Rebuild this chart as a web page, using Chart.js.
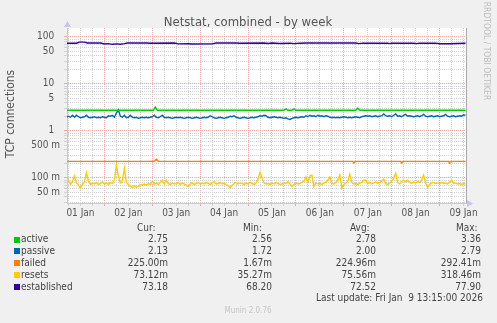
<!DOCTYPE html>
<html>
<head>
<meta charset="utf-8">
<script src="https://cdn.jsdelivr.net/npm/chart.js@4.4.1/dist/chart.umd.min.js"></script>
<style>
  html, body { margin: 0; padding: 0; background: #f0f0f0; }
  canvas { display: block; }
</style>
</head>
<body>
<canvas id="chart" width="497" height="323"></canvas>
<script>
// Netstat, combined - by week (munin)
const FONT = "'DejaVu Sans Condensed', 'DejaVu Sans', sans-serif"

// Axe x : heures depuis le 01 Jan 00:00
const xMin = 5.25
const xMax = 205.25
const dayLabelHours = [12, 36, 60, 84, 108, 132, 156, 180, 204]
const dayLabels = ['01 Jan', '02 Jan', '03 Jan', '04 Jan', '05 Jan', '06 Jan', '07 Jan', '08 Jan', '09 Jan']
const midnightHours = [24, 48, 72, 96, 120, 144, 168, 192]

// Axe y logarithmique
const yMin = 0.0292
const yMax = 154.6
const yGridValues = [0.03, 0.04, 0.05, 0.06, 0.07, 0.08, 0.09,
  0.1, 0.2, 0.3, 0.4, 0.5, 0.6, 0.7, 0.8, 0.9,
  1, 2, 3, 4, 5, 6, 7, 8, 9,
  10, 20, 30, 40, 50, 60, 70, 80, 90, 100]
const yMajorValues = [0.1, 1, 10, 100]
const yLabelValues = [0.05, 0.1, 0.5, 1, 5, 10, 50, 100]
const yLabelTexts = ['50 m', '100 m', '500 m', '1  ', '5  ', '10  ', '50  ', '100  ']

// Séries horaires (heure 5 à 205)
const hourlyTimes = []
for (let h = 5; h <= 205; h++) hourlyTimes.push(h)

const passiveValues = [
  1.95, 2.05, 1.95, 2.15, 1.95, 2.15, 2.0, 1.9, 1.95, 2.0,
  2.15, 1.95, 1.9, 1.95, 2.0, 1.9, 1.95, 1.9, 2.0, 1.95,
  1.9, 2.1, 2.05, 2.15, 1.95, 2.4, 2.79, 2.05, 1.95, 2.15,
  1.9, 1.95, 2.15, 1.95, 1.9, 1.95, 1.85, 1.9, 1.95, 1.9,
  1.95, 1.9, 1.95, 2.0, 2.15, 1.95, 1.9, 2.0, 2.15, 1.95,
  1.9, 1.95, 1.9, 1.85, 1.9, 1.95, 1.9, 1.95, 1.9, 1.85,
  1.9, 1.95, 1.9, 1.85, 1.9, 1.95, 1.9, 1.85, 1.9, 1.95,
  1.9, 1.95, 2.1, 2.0, 1.9, 1.85, 1.9, 1.95, 1.9, 1.85,
  1.9, 1.95, 2.05, 2.0, 2.1, 1.95, 1.9, 1.85, 1.9, 1.95,
  1.9, 1.85, 1.9, 1.95, 1.9, 1.95, 2.0, 2.1, 2.05, 2.15,
  2.1, 1.95, 1.9, 1.95, 2.0, 1.95, 1.9, 1.95, 1.9, 1.85,
  1.9, 1.8, 1.75, 1.85, 1.9, 1.95, 1.9, 1.95, 2.0, 1.95,
  2.1, 2.0, 2.15, 2.05, 2.1, 2.0, 2.15, 2.05, 2.1, 2.0,
  2.1, 2.05, 1.95, 1.9, 1.95, 1.9, 1.95, 1.9, 1.95, 2.0,
  1.95, 1.9, 1.95, 1.9, 1.95, 2.0, 1.95, 1.9, 2.0, 2.05,
  2.1, 2.05, 2.1, 2.0, 2.05, 2.1, 2.0, 2.05, 2.1, 2.3,
  2.1, 2.05, 2.1, 2.0, 2.15, 2.3, 2.05, 2.1, 2.0, 2.15,
  2.25, 2.05, 2.1, 2.05, 2.0, 2.05, 2.1, 2.0, 2.1, 2.25,
  2.05, 2.0, 2.05, 2.1, 2.0, 2.05, 2.1, 2.0, 2.05, 2.1,
  2.25, 2.05, 2.0, 2.05, 2.1, 2.0, 2.05, 2.1, 2.05, 2.2,
  2.13]

const resetsValues = [
  0.080, 0.090, 0.072, 0.085, 0.110, 0.078, 0.070, 0.060, 0.074, 0.082,
  0.130, 0.085, 0.072, 0.078, 0.074, 0.080, 0.072, 0.076, 0.082, 0.074,
  0.078, 0.072, 0.080, 0.076, 0.090, 0.190, 0.110, 0.078, 0.085, 0.160,
  0.080, 0.072, 0.066, 0.062, 0.068, 0.063, 0.066, 0.072, 0.070, 0.074,
  0.070, 0.076, 0.072, 0.085, 0.074, 0.078, 0.072, 0.080, 0.090, 0.074,
  0.090, 0.076, 0.072, 0.078, 0.074, 0.076, 0.080, 0.072, 0.078, 0.074,
  0.070, 0.065, 0.074, 0.078, 0.072, 0.076, 0.080, 0.074, 0.078, 0.074,
  0.080, 0.076, 0.072, 0.078, 0.082, 0.074, 0.076, 0.080, 0.074, 0.078,
  0.072, 0.068, 0.062, 0.070, 0.076, 0.080, 0.074, 0.078, 0.076, 0.072,
  0.078, 0.074, 0.080, 0.076, 0.072, 0.078, 0.095, 0.130, 0.100, 0.078,
  0.074, 0.076, 0.072, 0.078, 0.074, 0.080, 0.076, 0.072, 0.074, 0.078,
  0.076, 0.082, 0.074, 0.065, 0.072, 0.078, 0.074, 0.076, 0.080, 0.085,
  0.105, 0.080, 0.110, 0.115, 0.065, 0.078, 0.074, 0.076, 0.072, 0.078,
  0.080, 0.090, 0.105, 0.076, 0.074, 0.080, 0.090, 0.115, 0.060, 0.072,
  0.078, 0.085, 0.120, 0.080, 0.074, 0.076, 0.072, 0.078, 0.080, 0.090,
  0.088, 0.076, 0.080, 0.074, 0.078, 0.082, 0.076, 0.080, 0.085, 0.095,
  0.076, 0.072, 0.078, 0.085, 0.100, 0.125, 0.080, 0.074, 0.085, 0.090,
  0.082, 0.088, 0.080, 0.076, 0.082, 0.078, 0.084, 0.080, 0.090, 0.115,
  0.078, 0.063, 0.072, 0.078, 0.080, 0.076, 0.078, 0.074, 0.080, 0.076,
  0.078, 0.074, 0.082, 0.090, 0.076, 0.078, 0.074, 0.076, 0.072, 0.076,
  0.073]

// Séries presque constantes : points de changement
const activeTimes = [5, 48.5, 49.5, 50.5, 114, 115, 116, 118, 119, 120, 150, 151, 152, 205]
const activeValues = [2.75, 2.75, 3.2, 2.75, 2.75, 2.95, 2.75, 2.75, 2.95, 2.75, 2.75, 3.05, 2.75, 2.75]

const failedTimes = [5, 49, 50, 51, 148.5, 149, 149.5, 172.5, 173, 173.5, 196.5, 197, 197.5, 205]
const failedValues = [0.225, 0.225, 0.25, 0.225, 0.225, 0.208, 0.225, 0.225, 0.208, 0.225, 0.225, 0.208, 0.225, 0.225]

const establishedTimes = [5, 10, 11.5, 14, 15.5, 22, 24, 26, 28, 30, 32, 34, 35.5, 45, 47,
  59, 61, 66, 68, 78, 80, 90, 92, 104, 106, 108, 112, 117, 119, 122,
  125, 150, 151.5, 153.5, 166, 167, 168, 179, 180.5, 182, 190, 192, 195, 197, 205]
const establishedValues = [73.5, 73.5, 77.5, 77.5, 74, 74, 70.5, 72, 69.5, 71, 70, 72, 74, 74, 73,
  74, 71, 71.5, 70.5, 71, 74, 74, 73, 74, 72.5, 74, 72.5, 73.5, 72, 73.5,
  74, 74, 72, 73.5, 73.5, 72, 73.5, 73.5, 72, 73.5, 73.5, 71.5, 72, 71.5, 73.2]

// Légende
const legendNames = ['active', 'passive', 'failed', 'resets', 'established']
const legendColors = ['#00cc00', '#0066b3', '#ff8000', '#ffcc00', '#330099']
const curValues = ['2.75', '2.13', '225.00m', '73.12m', '73.18']
const minValues = ['2.56', '1.72', '1.67m', '35.27m', '68.20']
const avgValues = ['2.78', '2.00', '224.96m', '75.56m', '72.52']
const maxValues = ['3.36', '2.79', '292.41m', '318.46m', '77.90']
const lastUpdate = 'Last update: Fri Jan  9 13:15:00 2026'

const MAJOR = '#f0a8a8'
const MINOR = '#d2d2d2'
const AXIS = '#c6c6ee'
const TEXT = '#444'

function serie(label, times, values, color){
  return {
    label: label,
    data: times.map((t, i) => ({x: t, y: values[i]})),
    borderColor: color,
    borderWidth: 1.4,
    pointRadius: 0,
    tension: 0,
    fill: false
  }
}

const decorPlugin = {
  id: 'decor',
  beforeDraw(chart){
    const ctx = chart.ctx
    const a = chart.chartArea
    ctx.save()
    ctx.fillStyle = '#f0f0f0'
    ctx.fillRect(0, 0, chart.width, chart.height)
    ctx.fillStyle = '#ffffff'
    ctx.fillRect(a.left, a.top, a.right - a.left, a.bottom - a.top)
    ctx.restore()
  },
  afterDraw(chart){
    const ctx = chart.ctx
    const a = chart.chartArea
    ctx.save()
    // cadre droit
    ctx.strokeStyle = '#a8a8a8'
    ctx.lineWidth = 1
    ctx.beginPath()
    ctx.moveTo(Math.round(a.right) + 0.5, a.top)
    ctx.lineTo(Math.round(a.right) + 0.5, a.bottom)
    ctx.stroke()
    // flèches des axes
    ctx.fillStyle = AXIS
    ctx.beginPath()
    ctx.moveTo(a.left - 3, a.top - 1)
    ctx.lineTo(a.left + 4, a.top - 1)
    ctx.lineTo(a.left + 0.5, a.top - 7)
    ctx.closePath()
    ctx.fill()
    ctx.beginPath()
    ctx.moveTo(a.right + 1, a.bottom - 3)
    ctx.lineTo(a.right + 1, a.bottom + 4)
    ctx.lineTo(a.right + 7, a.bottom + 0.5)
    ctx.closePath()
    ctx.fill()
    // titre
    ctx.fillStyle = '#555'
    ctx.font = '13px ' + FONT
    ctx.textAlign = 'center'
    ctx.textBaseline = 'alphabetic'
    ctx.fillText('Netstat, combined - by week', 248, 26)
    // titre de l'axe y
    ctx.save()
    ctx.translate(14, 114)
    ctx.rotate(-Math.PI / 2)
    ctx.font = '12px ' + FONT
    ctx.textBaseline = 'alphabetic'
    ctx.fillText('TCP connections', 0, 0)
    ctx.restore()
    // texte vertical à droite
    ctx.save()
    ctx.translate(484, 51)
    ctx.rotate(Math.PI / 2)
    ctx.fillStyle = '#bdbdbd'
    ctx.font = '8.5px ' + FONT
    ctx.textAlign = 'center'
    ctx.fillText('RRDTOOL / TOBI OETIKER', 0, 0)
    ctx.restore()
    // légende
    ctx.font = '10px ' + FONT
    ctx.textBaseline = 'middle'
    ctx.fillStyle = TEXT
    ctx.textAlign = 'left'
    ctx.fillText('Cur:', 137, 228)
    ctx.fillText('Min:', 243, 228)
    ctx.fillText('Avg:', 350, 228)
    ctx.fillText('Max:', 456, 228)
    const rowY = [239.5, 251.3, 263.3, 275.3, 287.3]
    legendNames.forEach((name, i) => {
      const y = rowY[i]
      ctx.fillStyle = legendColors[i]
      ctx.fillRect(14, Math.round(y) - 3, 6, 6)
      ctx.fillStyle = TEXT
      ctx.textAlign = 'left'
      ctx.fillText(name, 21, y)
      ctx.textAlign = 'right'
      ctx.fillText(curValues[i], 168, y)
      ctx.fillText(minValues[i], 272, y)
      ctx.fillText(avgValues[i], 376, y)
      ctx.fillText(maxValues[i], 481, y)
    })
    ctx.textAlign = 'right'
    ctx.fillText(lastUpdate, 483, 298.5)
    ctx.fillStyle = '#c4c4c4'
    ctx.font = '8px ' + FONT
    ctx.textAlign = 'center'
    ctx.fillText('Munin 2.0.76', 248, 311)
    ctx.restore()
  }
}

const xGridHours = []
for (let h = 6; h <= 204; h += 6) xGridHours.push(h)

const config = {
  type: 'line',
  data: {
    datasets: [
      serie('active', activeTimes, activeValues, '#00cc00'),
      serie('passive', hourlyTimes, passiveValues, '#0066b3'),
      serie('failed', failedTimes, failedValues, '#ff8000'),
      serie('resets', hourlyTimes, resetsValues, '#ffcc00'),
      serie('established', establishedTimes, establishedValues, '#330099')
    ]
  },
  options: {
    responsive: false,
    animation: false,
    devicePixelRatio: 1,
    layout: { padding: { left: 0, top: 28, right: 31, bottom: 0 } },
    plugins: {
      legend: { display: false },
      tooltip: { enabled: false },
      title: { display: false }
    },
    scales: {
      x: {
        type: 'linear',
        min: xMin,
        max: xMax,
        bounds: 'data',
        afterBuildTicks: scale => { scale.ticks = xGridHours.map(v => ({value: v})) },
        afterFit: scale => { scale.height = 120 },
        ticks: {
          autoSkip: false,
          maxRotation: 0,
          padding: 1,
          color: '#555',
          font: { family: FONT, size: 10 },
          callback: v => {
            const i = dayLabelHours.indexOf(v)
            return i >= 0 ? dayLabels[i] : ''
          }
        },
        grid: {
          drawTicks: true,
          tickLength: 3,
          lineWidth: 1,
          color: c => midnightHours.includes(c.tick && c.tick.value) ? MAJOR : MINOR
        },
        border: { display: true, color: AXIS, dash: [1, 1] }
      },
      y: {
        type: 'logarithmic',
        min: yMin,
        max: yMax,
        bounds: 'data',
        afterBuildTicks: scale => { scale.ticks = yGridValues.map(v => ({value: v})) },
        afterFit: scale => { scale.width = 67 },
        ticks: {
          autoSkip: false,
          padding: 4,
          color: '#555',
          font: { family: FONT, size: 10 },
          callback: v => {
            const i = yLabelValues.findIndex(l => Math.abs(l - v) < l * 1e-6)
            return i >= 0 ? yLabelTexts[i] : ''
          }
        },
        grid: {
          drawTicks: true,
          tickLength: 3,
          lineWidth: 1,
          color: c => {
            const v = c.tick ? c.tick.value : 0
            return yMajorValues.some(m => Math.abs(m - v) < m * 1e-6) ? MAJOR : MINOR
          }
        },
        border: { display: true, color: AXIS, dash: [1, 1] }
      }
    }
  },
  plugins: [decorPlugin]
}

new Chart(document.getElementById('chart').getContext('2d'), config)
</script>
</body>
</html>
